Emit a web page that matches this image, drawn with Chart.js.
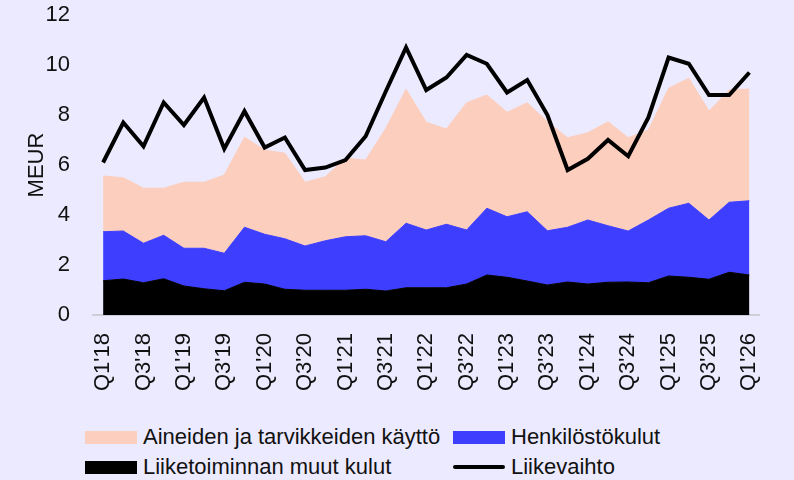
<!DOCTYPE html>
<html>
<head>
<meta charset="utf-8">
<script src="https://cdn.jsdelivr.net/npm/chart.js@4"></script>
<style>
  body { margin: 0; background: #ECEAFE; font-family: 'Liberation Sans', Arial, sans-serif; }
  #wrap { position: relative; width: 794px; height: 480px; overflow: hidden; }
  #chartBox { position: absolute; left: 0; top: 0; width: 794px; height: 405px; }
  .legend-item { position: absolute; display: flex; align-items: center; height: 30px; font-size: 22px; color: #111; white-space: nowrap; }
  .swatch { width: 52px; height: 13px; margin-right: 6px; }
  .swatch.line { height: 4px; border-radius: 2px; }
</style>
</head>
<body>
<div id="wrap">
  <div id="chartBox"><canvas id="costChart"></canvas></div>
  <div id="legend"></div>
</div>
<script>
// quarterly data, MEUR
const quarters = ["Q1'18", "Q2'18", "Q3'18", "Q4'18", "Q1'19", "Q2'19", "Q3'19", "Q4'19",
  "Q1'20", "Q2'20", "Q3'20", "Q4'20", "Q1'21", "Q2'21", "Q3'21", "Q4'21",
  "Q1'22", "Q2'22", "Q3'22", "Q4'22", "Q1'23", "Q2'23", "Q3'23", "Q4'23",
  "Q1'24", "Q2'24", "Q3'24", "Q4'24", "Q1'25", "Q2'25", "Q3'25", "Q4'25", "Q1'26"];

const liikevaihto = [6.1, 7.7, 6.75, 8.5, 7.6, 8.7, 6.65, 8.15, 6.7, 7.1, 5.8, 5.9, 6.2, 7.15, 8.95, 10.7,
  9.0, 9.5, 10.4, 10.05, 8.9, 9.4, 8.0, 5.8, 6.25, 7.0, 6.35, 7.9, 10.3, 10.05, 8.8, 8.8, 9.7];

const muutKulut = [1.37, 1.44, 1.29, 1.45, 1.16, 1.05, 0.97, 1.31, 1.24, 1.03, 0.99, 0.99, 0.99, 1.03, 0.96, 1.09,
  1.09, 1.09, 1.24, 1.6, 1.51, 1.36, 1.2, 1.32, 1.24, 1.31, 1.32, 1.29, 1.56, 1.51, 1.43, 1.71, 1.6];

const henkilostokulut = [1.96, 1.92, 1.58, 1.74, 1.51, 1.62, 1.5, 2.2, 1.99, 2.02, 1.77, 1.98, 2.14, 2.14, 1.97, 2.58,
  2.31, 2.54, 2.16, 2.67, 2.42, 2.77, 2.17, 2.19, 2.56, 2.26, 2.04, 2.51, 2.71, 2.96, 2.37, 2.8, 2.97];

const aineet = [2.23, 2.13, 2.2, 1.88, 2.64, 2.64, 3.13, 3.6, 3.37, 3.42, 2.55, 2.56, 3.14, 3.03, 4.54, 5.36,
  4.31, 3.81, 5.09, 4.53, 4.18, 4.36, 4.36, 3.58, 3.49, 4.16, 3.73, 3.6, 4.8, 5.0, 4.36, 4.49, 4.47];

const textColor = '#111';
Chart.defaults.font.family = "'Liberation Sans', Arial, sans-serif";
Chart.defaults.font.size = 22;
Chart.defaults.color = textColor;

function areaSet(label, data, color, fill) {
  return {
    label: label,
    data: data,
    stack: 'costs',
    backgroundColor: color,
    borderColor: color,
    borderWidth: 1,
    pointRadius: 0,
    tension: 0,
    fill: fill
  };
}

const chart = new Chart(document.getElementById('costChart'), {
  type: 'line',
  data: {
    labels: quarters,
    datasets: [
      {
        label: 'Liikevaihto',
        data: liikevaihto,
        stack: 'revenue',
        borderColor: '#000',
        backgroundColor: '#000',
        borderWidth: 4,
        borderJoinStyle: 'miter',
        pointRadius: 0,
        tension: 0,
        fill: false
      },
      areaSet('Liiketoiminnan muut kulut', muutKulut, '#000000', 'origin'),
      areaSet('Henkilöstökulut', henkilostokulut, '#3E3EFF', '-1'),
      areaSet('Aineiden ja tarvikkeiden käyttö', aineet, '#FBCEBE', '-1')
    ]
  },
  options: {
    responsive: true,
    maintainAspectRatio: false,
    animation: false,
    layout: { padding: { top: 15, right: 14, left: 0, bottom: 0 } },
    plugins: {
      legend: { display: false },
      tooltip: { enabled: false }
    },
    scales: {
      x: {
        offset: true,
        grid: { display: false, drawTicks: false },
        border: { display: true, color: '#CFCED8', width: 2 },
        ticks: {
          autoSkip: false,
          minRotation: 90,
          maxRotation: 90,
          padding: 18,
          callback: function (value, index) {
            return index % 2 === 0 ? this.getLabelForValue(value) : '';
          }
        },
        afterFit: function (scale) { scale.height = 90; }
      },
      y: {
        stacked: true,
        min: 0,
        max: 12,
        grid: { display: false, drawTicks: false },
        border: { display: false },
        ticks: { stepSize: 2, padding: 23 },
        title: { display: true, text: 'MEUR', padding: { top: 24, bottom: 0 } },
        afterFit: function (scale) {
          scale.width = 93;
          scale.paddingTop = 0;
          scale.paddingBottom = 0;
        }
      }
    }
  }
});

// two-column legend built from the chart's datasets
const legendOrder = [3, 2, 1, 0];
const legendCols = [85, 453];
const legendRows = [422, 452];
const legendEl = document.getElementById('legend');
legendOrder.forEach(function (dsIndex, i) {
  const ds = chart.data.datasets[dsIndex];
  const item = document.createElement('div');
  item.className = 'legend-item';
  item.style.left = legendCols[i % 2] + 'px';
  item.style.top = legendRows[Math.floor(i / 2)] + 'px';
  const sw = document.createElement('span');
  sw.className = ds.fill === false ? 'swatch line' : 'swatch';
  sw.style.background = ds.fill === false ? ds.borderColor : ds.backgroundColor;
  const txt = document.createElement('span');
  txt.textContent = ds.label;
  item.appendChild(sw);
  item.appendChild(txt);
  legendEl.appendChild(item);
});
</script>
</body>
</html>
